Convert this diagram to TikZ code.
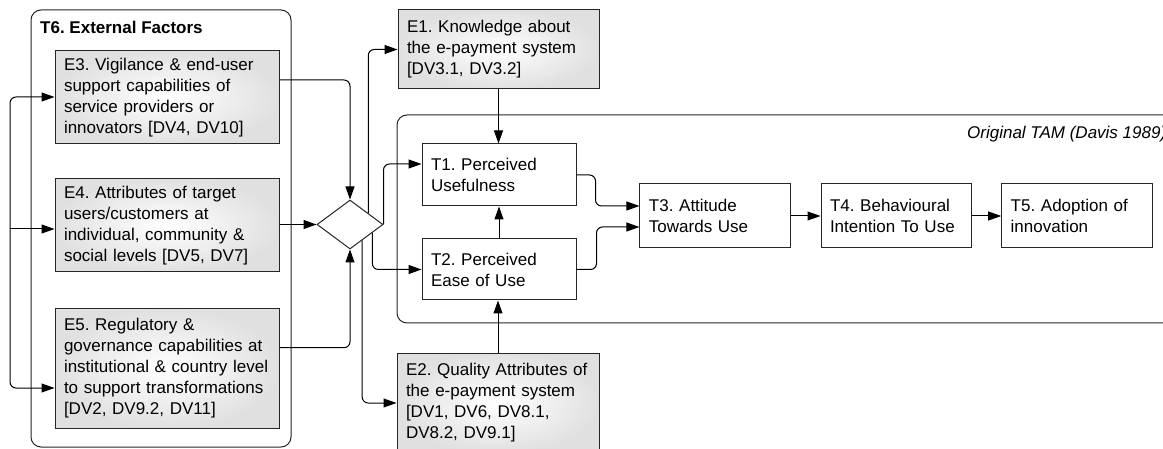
\documentclass[tikz,border=0pt]{standalone}
\usepackage{fontspec}
\setmainfont{Liberation Sans}
\usetikzlibrary{arrows.meta,calc,shapes.geometric}
\tikzset{
  basefont/.style={font=\fontsize{17pt}{21pt}\selectfont},
  box/.style={basefont, draw=black!85, line width=1pt, rectangle, inner xsep=9pt, inner ysep=2pt, align=left},
  ebox/.style={box, shading=radial, inner color=white, outer color=gray!24},
  tbox/.style={box, fill=white},
  frame/.style={draw=black!85, line width=1pt, rounded corners=10pt, rectangle, inner sep=0pt},
  conn/.style={line width=1pt, rounded corners=6pt, -{Triangle[length=13pt,width=9pt]}},
}
\begin{document}
\frenchspacing
\begin{tikzpicture}[x=1pt,y=-1pt]
\useasboundingbox (0,0) rectangle (1163,449);
\clip (0,0) rectangle (1163,449);
\fill[white] (0,0) rectangle (1163,449);

% containers
\node[frame, minimum width=260pt, minimum height=437pt] (T6) at (161,228.5) {};
\node[basefont, anchor=base west, inner sep=0pt, font=\fontsize{17pt}{21pt}\selectfont\bfseries] (T6title) at (40,34) {T6. External Factors};
\node[frame, minimum width=793pt, minimum height=208pt] (TAM) at (793.5,219) {};
\node[basefont, anchor=base west, inner sep=0pt, font=\fontsize{17pt}{21pt}\selectfont\itshape] (TAMtitle) at (967,139) {Original TAM (Davis 1989)};

% external factor boxes
\node[ebox, text width=206pt, minimum height=93pt] (E3) at (167,97.5) {\mbox{E3. Vigilance \& end-user}\\support capabilities of\\service providers or\\innovators [DV4, DV10]};
\node[ebox, text width=206pt, minimum height=93pt] (E4) at (167,225.5) {E4. Attributes of target\\users/customers at\\\mbox{individual, community \&}\\social levels [DV5, DV7]};
\node[ebox, text width=206pt, minimum height=119pt] (E5) at (167,368.5) {E5. Regulatory \&\\\mbox{governance capabilities at}\\\mbox{institutional \& country level}\\\mbox{to support transformations}\\{[DV2, DV9.2, DV11]}};
\node[ebox, text width=183pt, minimum height=79pt] (E1) at (498.5,49.5) {\mbox{E1. Knowledge about}\\\mbox{the e-payment system}\\{[DV3.1, DV3.2]}};
\node[ebox, text width=184pt, minimum height=100pt] (E2) at (498,403) {\mbox{E2. Quality Attributes of}\\\mbox{the e-payment system}\\{[DV1, DV6, DV8.1,}\\DV8.2, DV9.1]};

% diamond
\node[draw=black!85, line width=1pt, diamond, inner sep=0pt, minimum width=66pt, minimum height=49pt, fill=white] (D) at (350,224.5) {};

% TAM boxes
\node[tbox, text width=136pt, minimum height=62pt] (T1) at (499,175) {T1. Perceived\\Usefulness};
\node[tbox, text width=136pt, minimum height=61pt] (T2) at (499,269.5) {T2. Perceived\\Ease of Use};
\node[tbox, text width=132.7pt, minimum height=64pt] (T3) at (715.3,216) {T3. Attitude\\Towards Use};
\node[tbox, text width=132pt, minimum height=64pt] (T4) at (896,216) {\mbox{T4. Behavioural}\\\mbox{Intention To Use}};
\node[tbox, text width=132.6pt, minimum height=64pt] (T5) at (1077,216) {T5. Adoption of\\innovation};

% feed line on the left
\coordinate (src) at (10,229);
\draw[conn] (src) |- ($(E3.west)+(0,-0.5)$);
\draw[conn] (src) -- (src -| E4.west);
\draw[conn] (src) |- ($(E5.west)+(0,19.5)$);

% into the diamond
\draw[conn] ($(E3.east)+(0,-17.5)$) -| (D.north);
\draw[conn] (E4.east |- D.west) -- (D.west);
\draw[conn] ($(E5.east)+(0,-20.8)$) -| (D.south);

% out of the diamond
\draw[conn] ($(D.north)!0.545!(D.east)$) |- (E1.west);
\draw[conn] (D.east) |- ($(T1.west)+(0,-11)$);
\draw[conn] ($(D.east)!0.333!(D.south)$) |- (T2.west);
\draw[conn] ($(D.east)!0.636!(D.south)$) |- (E2.west);

% vertical links
\draw[conn] (E1.south) -- (E1.south |- T1.north);
\draw[conn] (T2.north) -- (T2.north |- T1.south);
\draw[conn] (E2.north) -- (E2.north |- T2.south);

% into T3 and along the chain
\draw[conn] (T1.east) -- ++(19,0) |- ($(T3.west)+(0,-10)$);
\draw[conn] (T2.east) -- ++(20,0) |- ($(T3.west)+(0,11)$);
\draw[conn] (T3.east) -- (T4.west);
\draw[conn] (T4.east) -- (T5.west);
\end{tikzpicture}
\end{document}
